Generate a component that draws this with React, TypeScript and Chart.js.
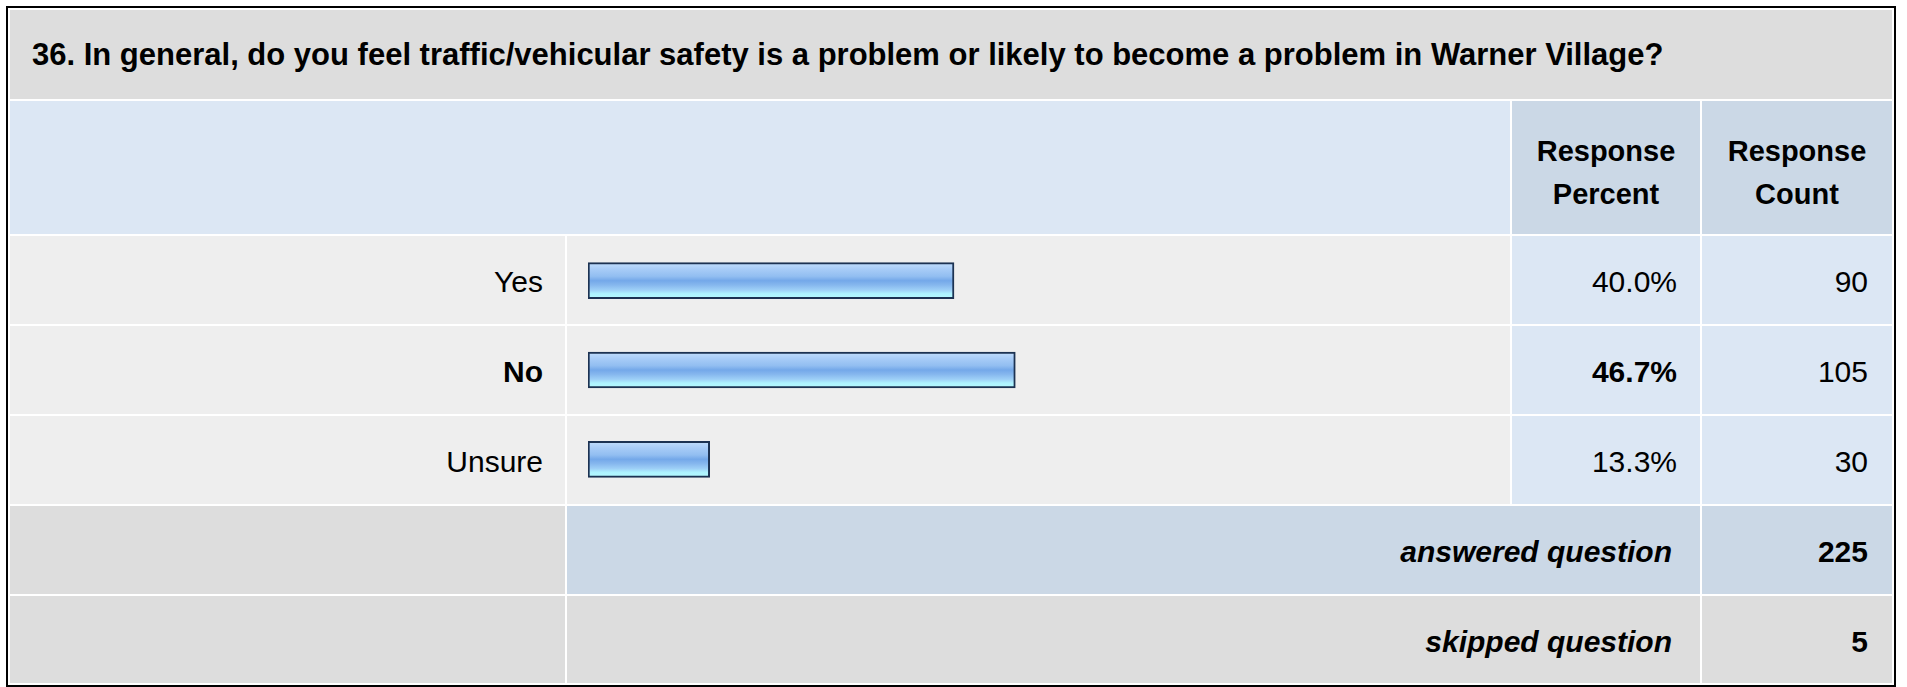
import React, { useEffect, useRef } from "react";
import { Chart, registerables } from "chart.js";

Chart.register(...registerables);

// ---- data ----
const questionTitle =
  "36. In general, do you feel traffic/vehicular safety is a problem or likely to become a problem in Warner Village?";
const categories = ["Yes", "No", "Unsure"];
const responsePercents = [40.0, 46.7, 13.3];
const responseCounts = [90, 105, 30];
const percentHeader = ["Response", "Percent"];
const countHeader = ["Response", "Count"];
const summaryLabels = ["answered question", "skipped question"];
const summaryValues = [225, 5];
const axisMax = 100;

// ---- styling / layout ----
const FONT = '"Liberation Sans", Arial, Helvetica, sans-serif';
const C_GRAY = "#DDDDDD";
const C_LIGHT = "#EEEEEE";
const C_BLUE = "#DCE7F4";
const C_BLUE_DARK = "#CBD8E6";
const BODY_SIZE = 30;

const COLS = [
  [10, 565],
  [567, 1510],
  [1512, 1700],
  [1702, 1892],
];
const ROW_TITLE = [10, 99];
const ROW_HEAD = [101, 234];
const DATA_ROWS = [
  [236, 324],
  [326, 414],
  [416, 504],
];
const SUM_ROWS = [
  [506, 594],
  [596, 683],
];

type CellProps = {
  x0: number;
  x1: number;
  y0: number;
  y1: number;
  bg: string;
  align?: "left" | "right" | "center";
  style?: React.CSSProperties;
  children?: React.ReactNode;
};

function Cell({ x0, x1, y0, y1, bg, align = "left", style, children }: CellProps) {
  return (
    <div
      style={{
        position: "absolute",
        left: x0,
        top: y0,
        width: x1 - x0,
        height: y1 - y0,
        background: bg,
        boxSizing: "border-box",
        padding: "0 22px",
        paddingTop: 4,
        display: "flex",
        alignItems: "center",
        justifyContent:
          align === "right" ? "flex-end" : align === "center" ? "center" : "flex-start",
        textAlign: align,
        fontFamily: FONT,
        fontSize: BODY_SIZE,
        color: "#000",
        whiteSpace: "nowrap",
        ...style,
      }}
    >
      {children}
    </div>
  );
}

function makeGradient(c: CanvasRenderingContext2D, cy: number) {
  const g = c.createLinearGradient(0, cy - 18, 0, cy + 18);
  g.addColorStop(0, "#C2DEFC");
  g.addColorStop(0.18, "#A8CCF7");
  g.addColorStop(0.38, "#92BEF1");
  g.addColorStop(0.5, "#74A8E9");
  g.addColorStop(0.62, "#86B7EE");
  g.addColorStop(0.76, "#9ED0F7");
  g.addColorStop(0.86, "#AEF2FE");
  g.addColorStop(1, "#B4FAFF");
  return g;
}

function BarsChart() {
  const ref = useRef<HTMLCanvasElement | null>(null);
  useEffect(() => {
    if (!ref.current) return;
    const chart = new Chart(ref.current, {
      type: "bar",
      data: {
        labels: categories,
        datasets: [
          {
            data: responsePercents,
            barThickness: 36,
            borderWidth: 2,
            borderColor: "#1C3252",
            borderSkipped: false,
            backgroundColor: (ctx: any) => {
              if (ctx.type !== "data") return "#8EBAF0";
              const yScale = ctx.chart.scales && ctx.chart.scales.y;
              if (!yScale) return "#8EBAF0";
              const cy = yScale.getPixelForValue(ctx.dataIndex);
              if (!Number.isFinite(cy)) return "#8EBAF0";
              return makeGradient(ctx.chart.ctx, cy);
            },
          },
        ],
      },
      options: {
        indexAxis: "y",
        animation: false,
        responsive: false,
        maintainAspectRatio: false,
        devicePixelRatio: 1,
        layout: { padding: 0 },
        events: [],
        plugins: {
          legend: { display: false },
          tooltip: { enabled: false },
          title: { display: false },
        },
        scales: {
          x: { display: false, min: 0, max: axisMax },
          y: { display: false },
        },
      },
    });
    return () => chart.destroy();
  }, []);
  return (
    <canvas
      ref={ref}
      width={915}
      height={268}
      style={{
        position: "absolute",
        left: 588,
        top: 236,
        width: 915,
        height: 268,
        pointerEvents: "none",
      }}
    />
  );
}

export default function App() {
  const maxIdx = responsePercents.indexOf(Math.max(...responsePercents));
  const headStyle: React.CSSProperties = {
    fontWeight: "bold",
    fontSize: 29,
    lineHeight: "43px",
    paddingTop: 10,
    whiteSpace: "normal",
  };
  return (
    <div
      style={{
        position: "absolute",
        left: 0,
        top: 0,
        width: 1907,
        height: 687,
        background: "#fff",
        overflow: "hidden",
      }}
    >
      <div
        style={{
          position: "absolute",
          left: 6,
          top: 6,
          width: 1890,
          height: 681,
          border: "2px solid #000",
          boxSizing: "border-box",
          background: "#fff",
        }}
      />
      {/* title */}
      <Cell
        x0={COLS[0][0]}
        x1={COLS[3][1]}
        y0={ROW_TITLE[0]}
        y1={ROW_TITLE[1]}
        bg={C_GRAY}
        style={{ fontWeight: "bold", fontSize: 31, paddingTop: 1 }}
      >
        {questionTitle}
      </Cell>
      {/* header */}
      <Cell x0={COLS[0][0]} x1={COLS[1][1]} y0={ROW_HEAD[0]} y1={ROW_HEAD[1]} bg={C_BLUE} />
      <Cell
        x0={COLS[2][0]}
        x1={COLS[2][1]}
        y0={ROW_HEAD[0]}
        y1={ROW_HEAD[1]}
        bg={C_BLUE_DARK}
        align="center"
        style={headStyle}
      >
        <div>
          {percentHeader.map((l, i) => (
            <div key={i}>{l}</div>
          ))}
        </div>
      </Cell>
      <Cell
        x0={COLS[3][0]}
        x1={COLS[3][1]}
        y0={ROW_HEAD[0]}
        y1={ROW_HEAD[1]}
        bg={C_BLUE_DARK}
        align="center"
        style={headStyle}
      >
        <div>
          {countHeader.map((l, i) => (
            <div key={i}>{l}</div>
          ))}
        </div>
      </Cell>
      {/* data rows */}
      {categories.map((cat, i) => {
        const [y0, y1] = DATA_ROWS[i];
        const bold = i === maxIdx ? "bold" : "normal";
        return (
          <React.Fragment key={cat}>
            <Cell
              x0={COLS[0][0]}
              x1={COLS[0][1]}
              y0={y0}
              y1={y1}
              bg={C_LIGHT}
              align="right"
              style={{ fontWeight: bold }}
            >
              {cat}
            </Cell>
            <Cell x0={COLS[1][0]} x1={COLS[1][1]} y0={y0} y1={y1} bg={C_LIGHT} />
            <Cell
              x0={COLS[2][0]}
              x1={COLS[2][1]}
              y0={y0}
              y1={y1}
              bg={C_BLUE}
              align="right"
              style={{ fontWeight: bold, paddingRight: 23 }}
            >
              {responsePercents[i].toFixed(1) + "%"}
            </Cell>
            <Cell
              x0={COLS[3][0]}
              x1={COLS[3][1]}
              y0={y0}
              y1={y1}
              bg={C_BLUE}
              align="right"
              style={{ paddingRight: 24 }}
            >
              {String(responseCounts[i])}
            </Cell>
          </React.Fragment>
        );
      })}
      {/* summary rows */}
      {summaryLabels.map((lab, i) => {
        const [y0, y1] = SUM_ROWS[i];
        const mid = i === 0 ? C_BLUE_DARK : C_GRAY;
        return (
          <React.Fragment key={lab}>
            <Cell x0={COLS[0][0]} x1={COLS[0][1]} y0={y0} y1={y1} bg={C_GRAY} />
            <Cell
              x0={COLS[1][0]}
              x1={COLS[2][1]}
              y0={y0}
              y1={y1}
              bg={mid}
              align="right"
              style={{ fontWeight: "bold", fontStyle: "italic", paddingRight: 28 }}
            >
              {lab}
            </Cell>
            <Cell
              x0={COLS[3][0]}
              x1={COLS[3][1]}
              y0={y0}
              y1={y1}
              bg={mid}
              align="right"
              style={{ fontWeight: "bold", paddingRight: 24 }}
            >
              {String(summaryValues[i])}
            </Cell>
          </React.Fragment>
        );
      })}
      <BarsChart />
    </div>
  );
}
